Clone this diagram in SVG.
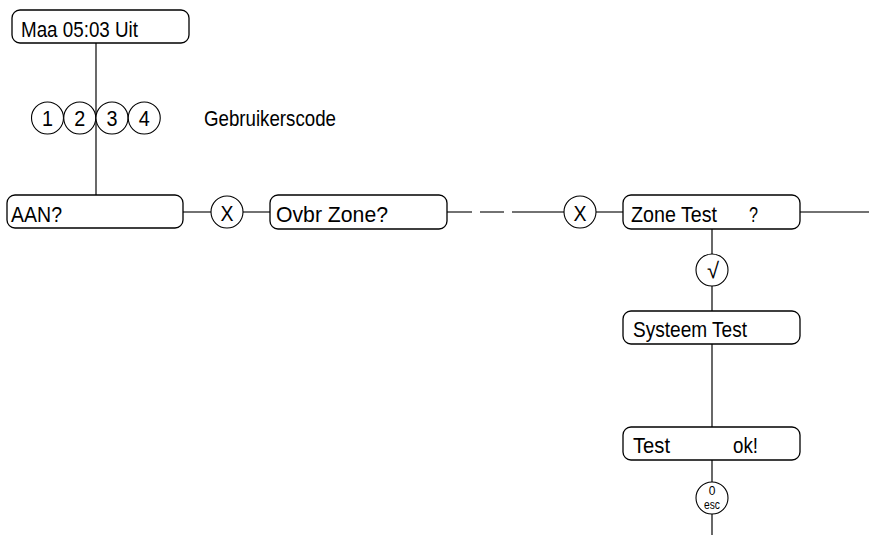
<svg xmlns="http://www.w3.org/2000/svg" width="869" height="535" viewBox="0 0 869 535">
<style>
.box{fill:#fff;stroke:#000;stroke-width:1.3}
.circ{fill:#fff;stroke:#000;stroke-width:1.1}
.t{font-family:"Liberation Sans",Arial,sans-serif;font-size:22px;fill:#000}
.c{text-anchor:middle}
.con{fill:none;stroke:#444;stroke-width:1.6}
</style>
<rect width="869" height="535" fill="#fff"/>
<g id="connectors">
<path class="con" d="M96 43V195"/>
<path class="con" d="M183 212H211M243 212H270"/>
<path class="con" d="M447 212H472M480 212H504M512 212H564M596 212H623M800 212H869"/>
<path class="con" d="M712 229V254M712 286V311M712 344V427M712 460V482M712 514V535"/>
</g>
<g id="n-maa"><rect class="box" x="12" y="10" width="177" height="33" rx="8"/><text class="t" x="21" y="37" textLength="117" lengthAdjust="spacingAndGlyphs">Maa 05:03 Uit</text></g>
<g id="n-k1"><circle class="circ" cx="47.5" cy="118" r="16"/><text class="t c" x="47.5" y="126" textLength="11" lengthAdjust="spacingAndGlyphs">1</text></g>
<g id="n-k2"><circle class="circ" cx="79.75" cy="118" r="16"/><text class="t c" x="79.75" y="126" textLength="11" lengthAdjust="spacingAndGlyphs">2</text></g>
<g id="n-k3"><circle class="circ" cx="112" cy="118" r="16"/><text class="t c" x="112" y="126" textLength="11" lengthAdjust="spacingAndGlyphs">3</text></g>
<g id="n-k4"><circle class="circ" cx="144.25" cy="118" r="16"/><text class="t c" x="144.25" y="126" textLength="11" lengthAdjust="spacingAndGlyphs">4</text></g>
<g id="l-code"><text class="t" x="204" y="126" textLength="132" lengthAdjust="spacingAndGlyphs">Gebruikerscode</text></g>
<g id="n-aan"><rect class="box" x="7" y="195" width="176" height="33" rx="8"/><text class="t" x="11" y="222" textLength="51" lengthAdjust="spacingAndGlyphs">AAN?</text></g>
<g id="n-x1"><circle class="circ" cx="227" cy="212" r="16"/><text class="t c" x="227" y="221" textLength="13" lengthAdjust="spacingAndGlyphs">X</text></g>
<g id="n-ovbr"><rect class="box" x="270" y="195" width="177" height="34" rx="8"/><text class="t" x="276" y="222" textLength="112" lengthAdjust="spacingAndGlyphs">Ovbr  Zone?</text></g>
<g id="n-x2"><circle class="circ" cx="580" cy="212" r="16"/><text class="t c" x="580" y="221" textLength="13" lengthAdjust="spacingAndGlyphs">X</text></g>
<g id="n-zone"><rect class="box" x="623" y="195" width="177" height="34" rx="8"/><text class="t" x="631" y="222" textLength="86" lengthAdjust="spacingAndGlyphs">Zone Test</text><text class="t" x="749" y="222" textLength="9" lengthAdjust="spacingAndGlyphs">?</text></g>
<g id="n-ok"><circle class="circ" cx="712" cy="270" r="16"/><text class="t c" x="713" y="278">√</text></g>
<g id="n-sys"><rect class="box" x="623" y="311" width="177" height="33" rx="8"/><text class="t" x="633" y="337" textLength="114" lengthAdjust="spacingAndGlyphs">Systeem Test</text></g>
<g id="n-test"><rect class="box" x="623" y="427" width="177" height="33" rx="8"/><text class="t" x="633" y="453" textLength="37" lengthAdjust="spacingAndGlyphs">Test</text><text class="t" x="733" y="453" textLength="25" lengthAdjust="spacingAndGlyphs">ok!</text></g>
<g id="n-esc"><circle class="circ" cx="712" cy="498" r="16"/><text class="t c" x="712" y="495" style="font-size:12px">0</text><text class="t c" x="712" y="509" style="font-size:12px" textLength="16" lengthAdjust="spacingAndGlyphs">esc</text></g>
</svg>
